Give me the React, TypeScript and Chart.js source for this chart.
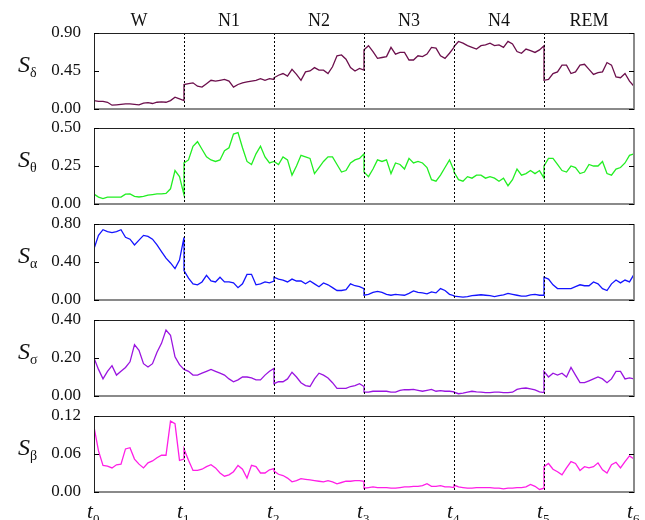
import React, { useEffect, useRef } from "react";
import { Chart, registerables } from "chart.js";

Chart.register(...registerables);

// ---------------- data ----------------
const stages = ["W", "N1", "N2", "N3", "N4", "REM"];
const bandNames = ["δ", "θ", "α", "σ", "β"];
const bandColors = ["#6c0f4c", "#22ee22", "#1414ff", "#9a14e0", "#ff1ee6"];
const yMaxes = [0.9, 0.5, 0.8, 0.4, 0.12];
const timeIndices = ["0", "1", "2", "3", "4", "5", "6"];

// each series: one array of samples per sleep stage (21 samples, stage start..stage end)
const sDelta: number[][] = [
  [0.10, 0.09, 0.09, 0.08, 0.045, 0.05, 0.055, 0.06, 0.06, 0.055, 0.05, 0.07, 0.075, 0.065, 0.08, 0.085, 0.08, 0.10, 0.14, 0.12, 0.10],
  [0.29, 0.30, 0.31, 0.27, 0.26, 0.30, 0.34, 0.33, 0.34, 0.35, 0.33, 0.26, 0.29, 0.31, 0.32, 0.33, 0.34, 0.36, 0.34, 0.36, 0.35],
  [0.37, 0.40, 0.42, 0.39, 0.47, 0.41, 0.34, 0.44, 0.45, 0.49, 0.46, 0.46, 0.42, 0.50, 0.63, 0.64, 0.59, 0.49, 0.45, 0.48, 0.46],
  [0.70, 0.75, 0.68, 0.60, 0.61, 0.62, 0.73, 0.65, 0.67, 0.67, 0.58, 0.58, 0.63, 0.62, 0.65, 0.73, 0.72, 0.63, 0.60, 0.66, 0.73],
  [0.74, 0.80, 0.78, 0.75, 0.73, 0.71, 0.75, 0.76, 0.78, 0.75, 0.76, 0.73, 0.80, 0.77, 0.68, 0.66, 0.71, 0.69, 0.67, 0.70, 0.75],
  [0.34, 0.35, 0.42, 0.44, 0.52, 0.52, 0.42, 0.44, 0.52, 0.53, 0.47, 0.41, 0.43, 0.44, 0.55, 0.52, 0.38, 0.37, 0.42, 0.33, 0.27],
];
const sTheta: number[][] = [
  [0.065, 0.045, 0.035, 0.045, 0.045, 0.045, 0.045, 0.065, 0.066, 0.05, 0.046, 0.05, 0.058, 0.062, 0.066, 0.066, 0.07, 0.10, 0.22, 0.18, 0.06],
  [0.27, 0.29, 0.38, 0.41, 0.36, 0.31, 0.29, 0.28, 0.29, 0.35, 0.37, 0.46, 0.47, 0.37, 0.28, 0.26, 0.33, 0.38, 0.31, 0.27, 0.28],
  [0.28, 0.26, 0.31, 0.29, 0.19, 0.25, 0.32, 0.31, 0.30, 0.20, 0.24, 0.28, 0.31, 0.31, 0.26, 0.21, 0.22, 0.27, 0.29, 0.30, 0.33],
  [0.21, 0.18, 0.23, 0.29, 0.28, 0.29, 0.20, 0.27, 0.26, 0.23, 0.30, 0.27, 0.28, 0.27, 0.24, 0.16, 0.15, 0.19, 0.24, 0.29, 0.22],
  [0.21, 0.16, 0.15, 0.18, 0.17, 0.19, 0.19, 0.17, 0.18, 0.17, 0.15, 0.17, 0.12, 0.16, 0.23, 0.19, 0.20, 0.22, 0.20, 0.22, 0.17],
  [0.25, 0.30, 0.30, 0.26, 0.22, 0.21, 0.25, 0.24, 0.20, 0.21, 0.26, 0.25, 0.25, 0.28, 0.20, 0.19, 0.23, 0.24, 0.27, 0.32, 0.33],
];
const sAlpha: number[][] = [
  [0.54, 0.68, 0.74, 0.72, 0.71, 0.72, 0.74, 0.66, 0.64, 0.58, 0.63, 0.68, 0.67, 0.64, 0.58, 0.51, 0.44, 0.39, 0.33, 0.42, 0.66],
  [0.31, 0.23, 0.17, 0.16, 0.19, 0.26, 0.20, 0.19, 0.24, 0.19, 0.19, 0.18, 0.13, 0.17, 0.27, 0.27, 0.16, 0.17, 0.19, 0.18, 0.20],
  [0.24, 0.22, 0.21, 0.19, 0.22, 0.20, 0.20, 0.17, 0.20, 0.17, 0.14, 0.18, 0.16, 0.13, 0.10, 0.10, 0.11, 0.17, 0.15, 0.14, 0.12],
  [0.05, 0.06, 0.08, 0.09, 0.08, 0.06, 0.05, 0.06, 0.055, 0.05, 0.07, 0.095, 0.08, 0.075, 0.065, 0.085, 0.075, 0.12, 0.10, 0.06, 0.045],
  [0.04, 0.035, 0.03, 0.035, 0.045, 0.05, 0.055, 0.05, 0.045, 0.035, 0.045, 0.055, 0.07, 0.06, 0.05, 0.04, 0.04, 0.055, 0.06, 0.05, 0.05],
  [0.24, 0.22, 0.16, 0.12, 0.12, 0.12, 0.12, 0.14, 0.16, 0.15, 0.15, 0.19, 0.17, 0.12, 0.10, 0.17, 0.21, 0.18, 0.21, 0.19, 0.27],
];
const sSigma: number[][] = [
  [0.20, 0.14, 0.09, 0.13, 0.16, 0.11, 0.13, 0.15, 0.18, 0.27, 0.24, 0.17, 0.153, 0.17, 0.23, 0.277, 0.347, 0.32, 0.206, 0.165, 0.14],
  [0.14, 0.13, 0.11, 0.11, 0.12, 0.13, 0.14, 0.13, 0.12, 0.11, 0.09, 0.075, 0.085, 0.10, 0.10, 0.095, 0.085, 0.085, 0.11, 0.13, 0.145],
  [0.065, 0.075, 0.075, 0.09, 0.125, 0.10, 0.07, 0.055, 0.05, 0.09, 0.12, 0.11, 0.095, 0.07, 0.04, 0.04, 0.04, 0.05, 0.055, 0.065, 0.05],
  [0.02, 0.02, 0.025, 0.025, 0.025, 0.025, 0.02, 0.02, 0.03, 0.033, 0.033, 0.035, 0.03, 0.025, 0.03, 0.035, 0.025, 0.028, 0.025, 0.025, 0.022],
  [0.02, 0.012, 0.015, 0.02, 0.025, 0.022, 0.02, 0.018, 0.018, 0.02, 0.02, 0.018, 0.018, 0.02, 0.035, 0.04, 0.042, 0.038, 0.032, 0.022, 0.018],
  [0.13, 0.10, 0.12, 0.11, 0.12, 0.10, 0.15, 0.11, 0.07, 0.07, 0.08, 0.09, 0.10, 0.09, 0.07, 0.09, 0.13, 0.13, 0.09, 0.095, 0.09],
];
const sBeta: number[][] = [
  [0.103, 0.065, 0.042, 0.041, 0.038, 0.043, 0.044, 0.068, 0.070, 0.052, 0.044, 0.038, 0.046, 0.049, 0.054, 0.058, 0.058, 0.112, 0.108, 0.05, 0.052],
  [0.068, 0.05, 0.034, 0.034, 0.036, 0.04, 0.043, 0.038, 0.03, 0.025, 0.027, 0.032, 0.042, 0.036, 0.022, 0.042, 0.04, 0.03, 0.03, 0.035, 0.037],
  [0.033, 0.028, 0.026, 0.022, 0.016, 0.018, 0.021, 0.02, 0.019, 0.018, 0.017, 0.016, 0.018, 0.016, 0.013, 0.015, 0.017, 0.017, 0.018, 0.018, 0.017],
  [0.006, 0.007, 0.008, 0.007, 0.007, 0.007, 0.006, 0.006, 0.007, 0.008, 0.008, 0.009, 0.009, 0.01, 0.013, 0.009, 0.009, 0.01, 0.008, 0.008, 0.007],
  [0.011, 0.008, 0.007, 0.006, 0.006, 0.007, 0.007, 0.007, 0.007, 0.006, 0.006, 0.005, 0.006, 0.006, 0.007, 0.007, 0.008, 0.012, 0.009, 0.004, 0.006],
  [0.04, 0.045, 0.036, 0.032, 0.027, 0.038, 0.048, 0.045, 0.034, 0.04, 0.038, 0.04, 0.046, 0.035, 0.03, 0.043, 0.047, 0.038, 0.048, 0.057, 0.052],
];
const allSeries = [sDelta, sTheta, sAlpha, sSigma, sBeta];

// ---------------- layout ----------------
const W = 645;
const H = 520;
const PANEL_TOPS = [33, 128, 224, 320, 416];
const PANEL_H = 76;
const PLOT_LEFT = 94;
const PLOT_RIGHT = 634;
const SERIF = "'Liberation Serif', 'Times New Roman', serif";
const TEXT = "#111";

function toPoints(segments: number[][]) {
  const pts: { x: number; y: number }[] = [];
  segments.forEach((seg, s) => {
    const n = seg.length - 1;
    seg.forEach((v, j) => pts.push({ x: s + j / n, y: v }));
  });
  return pts;
}

function makeDeco(idx: number) {
  return {
    id: "deco" + idx,
    afterDatasetsDraw(chart: any) {
      const { ctx, chartArea: a, scales } = chart;
      const xs = scales.x;
      const ys = scales.y;
      ctx.save();
      // dotted stage boundaries
      ctx.strokeStyle = "#000";
      ctx.lineWidth = 1;
      ctx.setLineDash([2, 2]);
      for (let k = 1; k < stages.length; k++) {
        const px = Math.round(xs.getPixelForValue(k)) + 0.5;
        ctx.beginPath();
        ctx.moveTo(px, a.top);
        ctx.lineTo(px, a.bottom);
        ctx.stroke();
      }
      ctx.setLineDash([]);
      // frame
      ctx.strokeStyle = "#8a8a8a";
      ctx.lineWidth = 2;
      ctx.beginPath();
      ctx.moveTo(a.left, a.bottom);
      ctx.lineTo(a.right, a.bottom);
      ctx.lineTo(a.right, a.top);
      ctx.stroke();
      ctx.strokeStyle = "#222";
      ctx.lineWidth = 1;
      ctx.beginPath();
      ctx.moveTo(a.left + 0.5, a.bottom);
      ctx.lineTo(a.left + 0.5, a.top + 0.5);
      ctx.lineTo(a.right, a.top + 0.5);
      ctx.stroke();
      // inward ticks
      ctx.strokeStyle = "#000";
      ys.ticks.forEach((t: any) => {
        const py = Math.round(ys.getPixelForValue(t.value)) + 0.5;
        ctx.beginPath();
        ctx.moveTo(a.left, py);
        ctx.lineTo(a.left + 5, py);
        ctx.moveTo(a.right - 5, py);
        ctx.lineTo(a.right, py);
        ctx.stroke();
      });
      ctx.restore();
    },
    afterDraw(chart: any) {
      const { ctx, chartArea: a, scales } = chart;
      const xs = scales.x;
      ctx.save();
      ctx.fillStyle = TEXT;
      ctx.textBaseline = "alphabetic";
      // band label S_x
      const mid = (a.top + a.bottom) / 2;
      ctx.textAlign = "left";
      ctx.font = `italic 24px ${SERIF}`;
      ctx.fillText("S", 18, mid + 1);
      const sw = ctx.measureText("S").width;
      ctx.font = `14px ${SERIF}`;
      ctx.fillText(bandNames[idx], 18 + sw, mid + 6);
      // stage labels on top panel
      if (idx === 0) {
        ctx.font = `18px ${SERIF}`;
        ctx.textAlign = "center";
        stages.forEach((s, k) => {
          const cx = (xs.getPixelForValue(k) + xs.getPixelForValue(k + 1)) / 2;
          ctx.fillText(s, cx, 26);
        });
      }
      // time labels below last panel
      if (idx === allSeries.length - 1) {
        ctx.textAlign = "left";
        timeIndices.forEach((d, k) => {
          const px = xs.getPixelForValue(k);
          ctx.font = `italic 21px ${SERIF}`;
          ctx.fillText("t", px - 7, 518);
          ctx.font = `13px ${SERIF}`;
          ctx.fillText(d, px - 1, 523);
        });
      }
      ctx.restore();
    },
  };
}

function Panel({ idx }: { idx: number }) {
  const ref = useRef<HTMLCanvasElement>(null);
  useEffect(() => {
    if (!ref.current) return;
    const top = PANEL_TOPS[idx];
    const bottom = top + PANEL_H;
    const yMax = yMaxes[idx];
    const chart = new Chart(ref.current, {
      type: "line",
      data: {
        datasets: [
          {
            data: toPoints(allSeries[idx]),
            borderColor: bandColors[idx],
            borderWidth: 1.3,
            pointRadius: 0,
            tension: 0,
            fill: false,
          },
        ],
      },
      options: {
        responsive: false,
        animation: false,
        events: [],
        layout: { padding: { top, bottom: H - bottom, left: 0, right: W - PLOT_RIGHT } },
        plugins: { legend: { display: false }, tooltip: { enabled: false } },
        scales: {
          x: { type: "linear", min: 0, max: stages.length, display: false },
          y: {
            type: "linear",
            min: 0,
            max: yMax,
            afterBuildTicks: (s: any) => {
              s.ticks = [{ value: 0 }, { value: yMax / 2 }, { value: yMax }];
            },
            afterFit: (s: any) => {
              s.width = PLOT_LEFT;
            },
            grid: { display: false, drawTicks: false },
            border: { display: false },
            ticks: {
              padding: 13,
              color: TEXT,
              font: { family: SERIF, size: 17 },
              callback: (v: any) => Number(v).toFixed(2),
            },
          },
        },
      },
      plugins: [makeDeco(idx)],
    });
    return () => chart.destroy();
  }, [idx]);
  return (
    <canvas
      ref={ref}
      width={W}
      height={H}
      style={{ position: "absolute", left: 0, top: 0, width: W, height: H }}
    />
  );
}

export default function App() {
  return (
    <div style={{ position: "absolute", left: 0, top: 0, width: W, height: H, background: "#fff", overflow: "hidden" }}>
      {allSeries.map((_, i) => (
        <Panel key={i} idx={i} />
      ))}
    </div>
  );
}
